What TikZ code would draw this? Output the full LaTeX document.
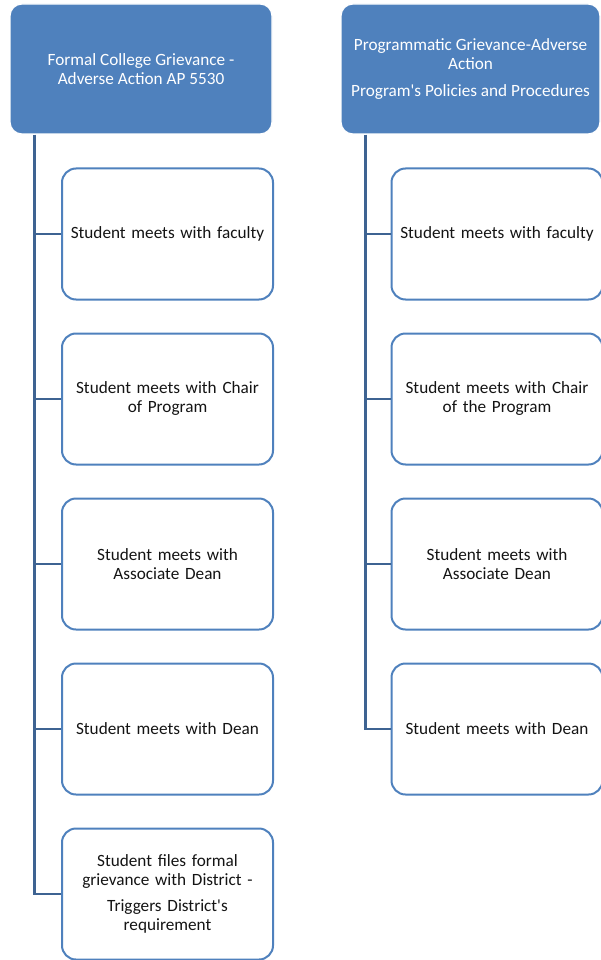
\documentclass[tikz,border=0pt]{standalone}
\usepackage{fontspec}
\setmainfont{Carlito}[Ligatures=TeXOff]
\usepackage{tikz}
\usetikzlibrary{positioning}
\definecolor{accent}{RGB}{79,129,189}
\definecolor{spine}{RGB}{62,99,146}

\begin{document}
\begin{tikzpicture}[x=1pt, y=1pt, node distance=32pt,
    head/.style={draw=white, line width=1.2pt, fill=accent, rounded corners=12pt,
      minimum width=262pt, minimum height=130pt, text=white, align=center,
      inner sep=2pt, font=\fontsize{17.2}{19}\selectfont},
    item/.style={draw=accent, line width=2pt, fill=white, rounded corners=14pt,
      minimum width=211pt, minimum height=131pt, text width=205pt, align=center,
      inner sep=2pt, text=black!92, font=\fontsize{17.2}{19}\selectfont},
    conn/.style={draw=spine, line width=2.6pt}]
    \useasboundingbox (0,0) rectangle (600,-960);

    % left column: college process
    \node[head] (formal) at (141,-69)
      {Formal College Grievance -\\Adverse Action AP 5530};
    \node[item] (fFaculty) at (167.5,-234) {Student meets with faculty};
    \node[item,below=of fFaculty] (fChair) {Student meets with Chair\\of Program};
    \node[item,below=of fChair] (fAssoc) {Student meets with\\Associate Dean};
    \node[item,below=of fAssoc] (fDean) {Student meets with Dean};
    \node[item,below=of fDean] (fDistrict)
      {Student files formal\\grievance with District -\\[7pt]Triggers District's\\requirement};

    % right column: program process
    \node[head, minimum width=259pt] (progm) at (470.5,-69)
      {Programmatic Grievance-Adverse\\Action\\[8pt]Program's Policies and Procedures};
    \node[item] (pFaculty) at (497,-234) {Student meets with faculty};
    \node[item,below=of pFaculty] (pChair) {Student meets with Chair\\of the Program};
    \node[item,below=of pChair] (pAssoc) {Student meets with\\Associate Dean};
    \node[item,below=of pAssoc] (pDean) {Student meets with Dean};

    \coordinate (fSpine) at ([xshift=25pt]formal.south west);
    \coordinate (pSpine) at ([xshift=25pt]progm.south west);

    \draw[conn] (fSpine) |- (fDistrict.west);
    \foreach \n in {fFaculty,fChair,fAssoc,fDean}
      \draw[conn] (fSpine |- \n.west) -- (\n.west);
    \draw[conn] (pSpine) |- (pDean.west);
    \foreach \n in {pFaculty,pChair,pAssoc}
      \draw[conn] (pSpine |- \n.west) -- (\n.west);
\end{tikzpicture}
\end{document}
